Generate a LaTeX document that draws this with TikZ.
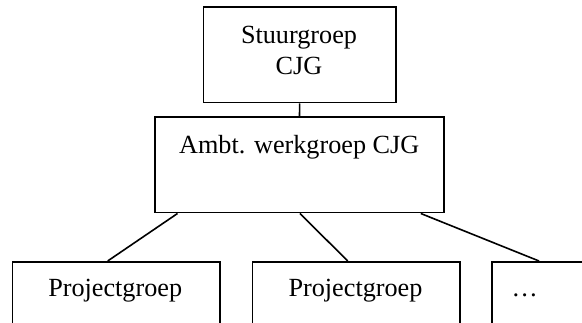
\documentclass[tikz,border=0pt]{standalone}
\usepackage{fontspec}
\setmainfont{Liberation Serif}
\begin{document}
\begin{tikzpicture}[x=1pt,y=1pt,
  box/.style={draw=black, line width=1.6pt, rectangle, inner sep=0pt, fill=white},
  lbl/.style={inner sep=0pt, anchor=base, font=\fontsize{26.2}{31.7}\selectfont},
  conn/.style={draw=black, line width=1.6pt}]
\useasboundingbox (0,0) rectangle (582,323);
\clip (0,0) rectangle (582,323);
\fill[white] (0,0) rectangle (582,323);
% boxes
\node[box, minimum width=192.7pt, minimum height=95.4pt] (s) at (299.65,268) {};
\node[box, minimum width=289pt, minimum height=95.4pt] (a) at (299.5,158) {};
\node[box, minimum width=207.6pt, minimum height=95.4pt, anchor=north west] (p1) at (11.7,62) {};
\node[box, minimum width=207.6pt, minimum height=95.4pt, anchor=north west] (p2) at (251.7,62) {};
\node[box, minimum width=207.6pt, minimum height=95.4pt, anchor=north west] (d) at (491,62) {};
% texts
\node[lbl] (st1) at (299,279.7) {Stuurgroep};
\node[lbl] (st2) at (299,248) {CJG};
\node[lbl] (at) at (299.2,169.7) {Ambt. werkgroep CJG};
\node[lbl] (p1t) at (115.2,26.3) {Projectgroep};
\node[lbl] (p2t) at (355.5,26.3) {Projectgroep};
\node[lbl] (dt) at (524.7,26.3) {…};
% connectors
\draw[conn] (s.south) -- (a.north);
\draw[conn] ([xshift=23.3pt]a.south west) -- ([xshift=96pt]p1.north west);
\draw[conn] ([xshift=0.5pt]a.south) -- ([xshift=96pt]p2.north west);
\draw[conn] ([xshift=-24pt]a.south east) -- ([xshift=48pt]d.north west);
\end{tikzpicture}
\end{document}
